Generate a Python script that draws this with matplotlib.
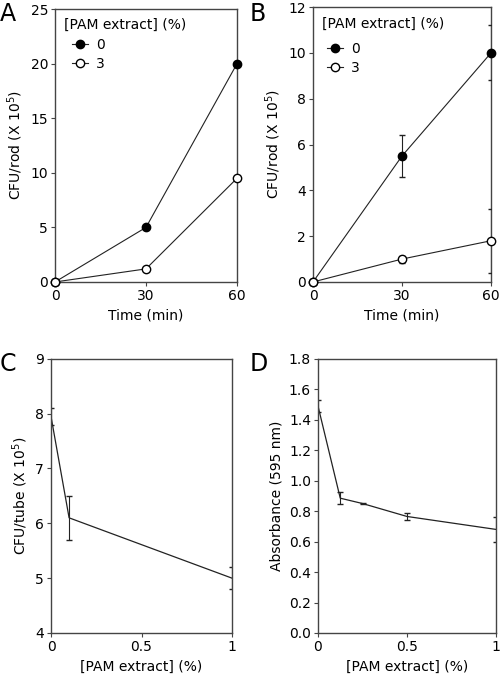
import matplotlib
matplotlib.use("Agg")
import matplotlib.pyplot as plt
from matplotlib.ticker import FormatStrFormatter

# panel A: CFU per rod over time
time_min = [0, 30, 60]
a_pam0 = [0, 5, 20]
a_pam3 = [0, 1.2, 9.5]

# panel B: CFU per rod over time, with error
b_pam0 = [0, 5.5, 10]
b_pam0_err = [0, 0.9, 1.2]
b_pam3 = [0, 1.0, 1.8]
b_pam3_err = [0, 0.15, 1.4]

# panel C: CFU per tube vs extract concentration
c_conc = [0, 0.1, 1]
c_cfu = [7.95, 6.1, 5.0]
c_err = [0.15, 0.4, 0.2]

# panel D: absorbance vs extract concentration
d_conc = [0, 0.125, 0.25, 0.5, 1]
d_abs = [1.49, 0.885, 0.85, 0.765, 0.68]
d_err = [0.04, 0.04, 0.005, 0.025, 0.08]

legend_labels = ["0", "3"]

plt.rcParams["font.family"] = "DejaVu Sans"
plt.rcParams["font.size"] = 10

fig = plt.figure(figsize=(5, 6.77), dpi=100)

spine_col = "#444444"
line_col = "#222222"


def style_axes(ax):
    for s in ax.spines.values():
        s.set_color(spine_col)
        s.set_linewidth(1.0)
    ax.tick_params(direction="out", length=3, width=0.8, color=spine_col,
                   labelsize=10, pad=2)


def add_legend(ax, title_xy, entry_xy):
    # title as plain text, entries as a legend indented below it
    ax.text(title_xy[0], title_xy[1], "[PAM extract] (%)", transform=ax.transAxes,
            ha="left", va="center", fontsize=10)
    h0, = ax.plot([], [], "-o", color=line_col, mfc="black", mec="black",
                  ms=6, lw=0.8)
    h1, = ax.plot([], [], "-o", color=line_col, mfc="white", mec="black",
                  ms=6, lw=0.8)
    ax.legend([h0, h1], legend_labels, loc="upper left",
              bbox_to_anchor=entry_xy, frameon=False, handlelength=1.15,
              handletextpad=0.6, labelspacing=0.35, fontsize=10,
              borderpad=0, borderaxespad=0)


# A
axA = fig.add_axes([0.11, 0.5835, 0.364, 0.403])
axA.plot(time_min, a_pam0, "-o", color=line_col, lw=0.8, mfc="black",
         mec="black", ms=6, clip_on=False, zorder=3)
axA.plot(time_min, a_pam3, "-o", color=line_col, lw=0.8, mfc="white",
         mec="black", ms=6, clip_on=False, zorder=3)
axA.set_xlim(0, 60)
axA.set_ylim(0, 25)
axA.set_xticks([0, 30, 60])
axA.set_yticks([0, 5, 10, 15, 20, 25])
axA.set_xlabel("Time (min)")
axA.set_ylabel("CFU/rod (X 10$^5$)")
style_axes(axA)
add_legend(axA, (0.05, 0.941), (0.093, 0.895))

# B
axB = fig.add_axes([0.626, 0.5835, 0.356, 0.406])
axB.errorbar(time_min, b_pam0, yerr=b_pam0_err, fmt="-o", color=line_col,
             lw=0.8, mfc="black", mec="black", ms=6, ecolor=line_col,
             elinewidth=0.8, capsize=2.5, zorder=3)
axB.errorbar(time_min, b_pam3, yerr=b_pam3_err, fmt="-o", color=line_col,
             lw=0.8, mfc="white", mec="black", ms=6, ecolor=line_col,
             elinewidth=0.8, capsize=2.5, zorder=3)
for ln in axB.lines:
    if ln.get_marker() == "o":
        ln.set_clip_on(False)
axB.set_xlim(0, 60)
axB.set_ylim(0, 12)
axB.set_xticks([0, 30, 60])
axB.set_yticks([0, 2, 4, 6, 8, 10, 12])
axB.set_xlabel("Time (min)")
axB.set_ylabel("CFU/rod (X 10$^5$)")
style_axes(axB)
add_legend(axB, (0.05, 0.938), (0.079, 0.873))

# C
axC = fig.add_axes([0.102, 0.065, 0.362, 0.405])
axC.errorbar(c_conc, c_cfu, yerr=c_err, fmt="-", color=line_col, lw=0.9,
             ecolor=line_col, elinewidth=0.8, capsize=2.5)
axC.set_xlim(0, 1)
axC.set_ylim(4, 9)
axC.set_xticks([0, 0.5, 1])
axC.set_xticklabels(["0", "0.5", "1"])
axC.set_yticks([4, 5, 6, 7, 8, 9])
axC.set_xlabel("[PAM extract] (%)")
axC.set_ylabel("CFU/tube (X 10$^5$)")
style_axes(axC)

# D
axD = fig.add_axes([0.636, 0.065, 0.356, 0.405])
axD.errorbar(d_conc, d_abs, yerr=d_err, fmt="-", color=line_col, lw=0.9,
             ecolor=line_col, elinewidth=0.8, capsize=2.5)
axD.set_xlim(0, 1)
axD.set_ylim(0, 1.8)
axD.set_xticks([0, 0.5, 1])
axD.set_xticklabels(["0", "0.5", "1"])
axD.set_yticks([0, 0.2, 0.4, 0.6, 0.8, 1.0, 1.2, 1.4, 1.6, 1.8])
axD.yaxis.set_major_formatter(FormatStrFormatter("%.1f"))
axD.set_xlabel("[PAM extract] (%)")
axD.set_ylabel("Absorbance (595 nm)")
style_axes(axD)

# panel letters
for lbl, x, y in [("A", 0.0, 0.997), ("B", 0.5, 0.997),
                  ("C", 0.0, 0.48), ("D", 0.5, 0.48)]:
    fig.text(x, y, lbl, fontsize=17, ha="left", va="top")

fig.savefig("out.png", dpi=100)
